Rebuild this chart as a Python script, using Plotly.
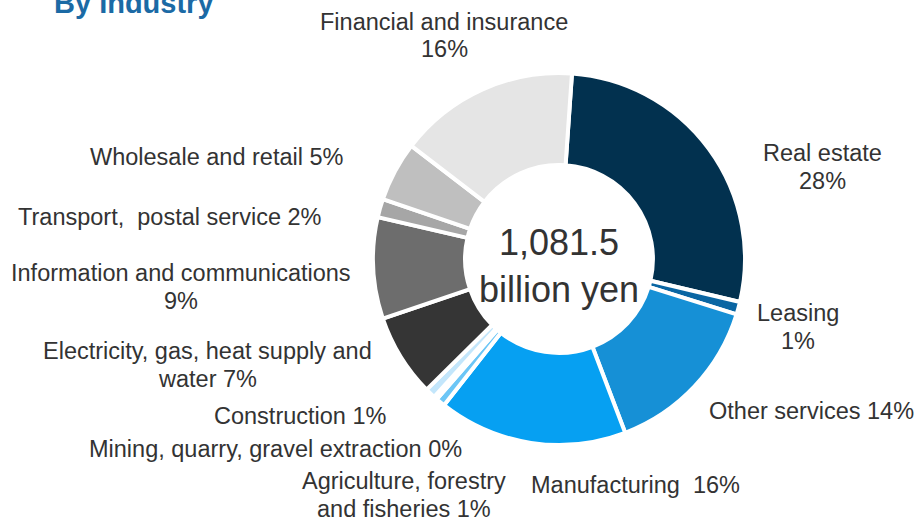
import plotly.graph_objects as go

# Outstanding balance by industry (share of total, %)
industries = [
    "Real estate", "Leasing", "Other services", "Manufacturing",
    "Agriculture, forestry and fisheries", "Mining, quarry, gravel extraction",
    "Construction", "Electricity, gas, heat supply and water",
    "Information and communications", "Transport, postal service",
    "Wholesale and retail", "Financial and insurance",
]
shares = [27.6, 1.1, 14.4, 16.4, 0.8, 0.3, 0.9, 7.2, 8.8, 1.6, 5.2, 15.7]
total_label = "1,081.5<br>billion yen"
title_text = "By Industry"

colors = [
    "#02314f", "#0a66a3", "#1690d6", "#06a0f2", "#6cc6f6", "#9ad6f8",
    "#c3e6fb", "#353535", "#6d6d6d", "#a6a6a6", "#bfbfbf", "#e5e5e5",
]

# Label layout: (line templates, x px, first-line y px, x anchor)
label_layout = [
    (["Real estate", "{p}%"], 822, 153, "center"),
    (["Leasing", "{p}%"], 798, 313, "center"),
    (["Other services {p}%"], 811, 411, "center"),
    (["Manufacturing  {p}%"], 635, 485, "center"),
    (["Agriculture, forestry", "and fisheries {p}%"], 404, 481, "center"),
    (["Mining, quarry, gravel extraction {p}%"], 464, 449, "right"),
    (["Construction {p}%"], 389, 416, "right"),
    (["Electricity, gas, heat supply and", "water {p}%"], 207, 351, "center"),
    (["Information and communications", "{p}%"], 181, 273, "center"),
    (["Transport,  postal service {p}%"], 324, 217, "right"),
    (["Wholesale and retail {p}%"], 346, 157, "right"),
    (["Financial and insurance", "{p}%"], 444, 22, "center"),
]
LINE_GAP = 27.5

W, H = 917, 518
FONT = "Liberation Sans, Arial"


def px(x, y):
    return x / W, 1 - y / H


# Donut geometry in pixels
cx, cy, r = 559, 259, 186
x0, y0 = px(cx - r, cy - r)
x1, y1 = px(cx + r, cy + r)

fig = go.Figure(
    go.Pie(
        labels=industries,
        values=shares,
        sort=False,
        direction="clockwise",
        rotation=4,
        hole=0.505,
        marker=dict(colors=colors, line=dict(color="white", width=4)),
        textinfo="none",
        hoverinfo="label+percent",
        domain=dict(x=[x0, x1], y=[y1, y0]),
        showlegend=False,
    )
)

annotations = []
for (lines, lx, ly, anchor), val in zip(label_layout, shares):
    for i, line in enumerate(lines):
        ax, ay = px(lx, ly + i * LINE_GAP)
        annotations.append(dict(
            text=line.format(p=round(val)), x=ax, y=ay, xref="paper", yref="paper",
            xanchor=anchor, yanchor="middle", showarrow=False,
            font=dict(family=FONT, size=23.5, color="#333333"),
        ))

# Total in the centre of the ring
tx, ty = px(cx, 266)
annotations.append(dict(
    text=total_label, x=tx, y=ty, xref="paper", yref="paper",
    xanchor="center", yanchor="middle", showarrow=False,
    font=dict(family=FONT, size=36, color="#333333"),
))

# Section heading
hx, hy = px(52, 3)
annotations.append(dict(
    text="<b>" + title_text + "</b>", x=hx, y=hy, xref="paper", yref="paper",
    xanchor="left", yanchor="middle", showarrow=False,
    font=dict(family=FONT, size=29, color="#1b6aa5"),
))

fig.update_layout(
    width=W, height=H,
    margin=dict(l=0, r=0, t=0, b=0),
    paper_bgcolor="white", plot_bgcolor="white",
    annotations=annotations,
)

fig.write_html("out.html")
